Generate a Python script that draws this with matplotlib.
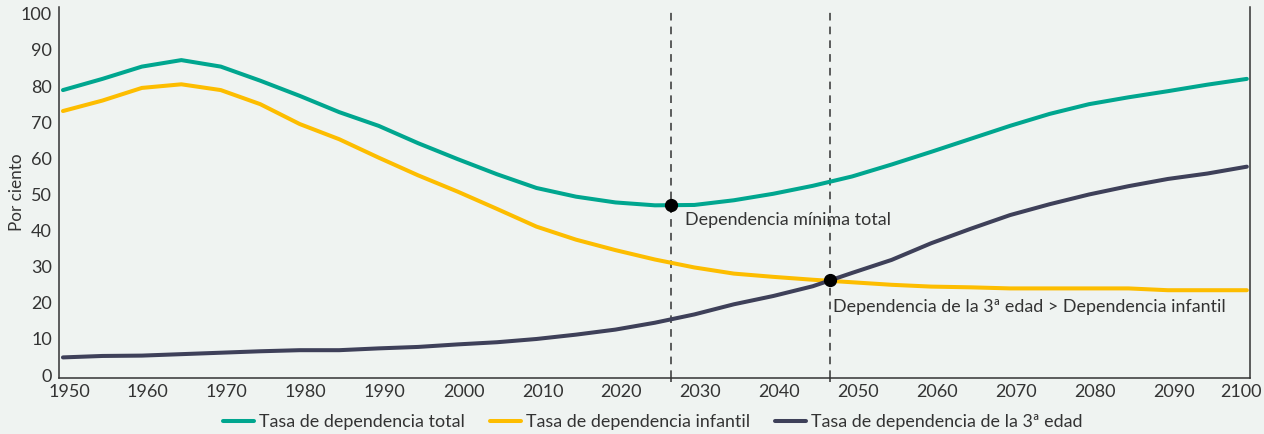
import numpy as np
import matplotlib
matplotlib.use("Agg")
import matplotlib.pyplot as plt
from matplotlib.transforms import ScaledTranslation

plt.rcParams["font.family"] = ["Lato", "DejaVu Sans"]

# === Data ===
years = list(range(1950, 2101, 5))

total = [78.9, 82.0, 85.4, 87.2, 85.4, 81.5, 77.3, 72.8, 69.0, 64.2,
         59.8, 55.6, 51.8, 49.4, 47.8, 47.0, 47.1, 48.4, 50.2, 52.4,
         55.0, 58.3, 61.8, 65.4, 69.0, 72.3, 75.0, 76.9, 78.6, 80.4, 82.0]

infantil = [73.1, 76.0, 79.5, 80.5, 78.9, 75.0, 69.5, 65.3, 60.2, 55.3,
            50.8, 46.0, 41.1, 37.5, 34.6, 32.0, 29.8, 28.1, 27.2, 26.4,
            25.7, 25.0, 24.5, 24.3, 24.0, 24.0, 24.0, 24.0, 23.5, 23.5, 23.5]

tercera_edad = [4.9, 5.3, 5.4, 5.8, 6.2, 6.6, 6.9, 6.9, 7.4, 7.8,
                8.5, 9.1, 10.0, 11.2, 12.6, 14.5, 16.8, 19.6, 21.9, 24.6,
                28.3, 31.9, 36.5, 40.5, 44.3, 47.3, 50.0, 52.3, 54.3, 55.8, 57.7]

# highlighted points
min_year, min_value = 2027.1, 47.2
cross_year, cross_value = 2047.2, 26.2

series_labels = ["Tasa de dependencia total",
                 "Tasa de dependencia infantil",
                 "Tasa de dependencia de la 3ª edad"]
colors = ["#00a68f", "#fdbd00", "#3e4059"]

bg = "#eff3f1"
text_color = "#333333"

# === Figure ===
fig = plt.figure(figsize=(12.64, 4.34), dpi=100, facecolor=bg)
ax = fig.add_axes([59 / 1264, 1 - 378 / 434, (1250 - 59) / 1264, (378 - 7) / 434])
ax.set_facecolor(bg)

for vals, lab, col in zip([total, infantil, tercera_edad], series_labels, colors):
    ax.plot(years, vals, color=col, lw=2.9, label=lab, solid_capstyle="round", zorder=3)

# dashed reference lines
for yr in [min_year, cross_year]:
    ax.axvline(yr, color=text_color, lw=1.1, ls=(0, (5, 4)), zorder=2)

ax.plot([min_year, cross_year], [min_value, cross_value], "o", color="black",
        ms=8.5, zorder=5)

ax.annotate("Dependencia mínima total", (min_year, min_value),
            xytext=(14, -15), textcoords="offset pixels", ha="left", va="center",
            fontsize=12.9, color=text_color)
ax.annotate("Dependencia de la 3ª edad > Dependencia infantil", (cross_year, cross_value),
            xytext=(3, -27), textcoords="offset pixels", ha="left", va="center",
            fontsize=12.9, color=text_color)

# axes
ax.set_xlim(1949.5, 2100.4)
ax.set_ylim(-0.8, 101.9)
ax.set_xticks(range(1950, 2101, 10))
ax.set_yticks(range(0, 101, 10))
ax.set_xticks([min_year, cross_year], minor=True)
ax.tick_params(axis="both", which="major", length=0, labelsize=13, colors=text_color)
ax.tick_params(axis="x", which="major", pad=4)
ax.tick_params(axis="y", which="major", pad=5)
ax.tick_params(axis="x", which="minor", length=3, width=1.1, color=text_color)

for lbl in ax.get_xticklabels():
    lbl.set_transform(lbl.get_transform() + ScaledTranslation(6 / 100, 0, fig.dpi_scale_trans))
last = ax.get_xticklabels()[-1]
last.set_transform(last.get_transform() + ScaledTranslation(-12 / 100, 0, fig.dpi_scale_trans))

ax.spines["top"].set_visible(False)
for side in ["left", "bottom", "right"]:
    ax.spines[side].set_color(text_color)
    ax.spines[side].set_linewidth(1.1)

fig.text(17 / 1264, 1 - 192 / 434, "Por ciento", rotation=90, ha="center", va="center",
         fontsize=12.3, color=text_color)

leg = fig.legend(loc="center", bbox_to_anchor=(653 / 1264, 1 - 422 / 434), ncol=3,
                 frameon=False, fontsize=12.9, handlelength=1.7, handletextpad=0.3,
                 columnspacing=1.4)
for t in leg.get_texts():
    t.set_color(text_color)

fig.savefig("out.png", dpi=100, facecolor=bg)
